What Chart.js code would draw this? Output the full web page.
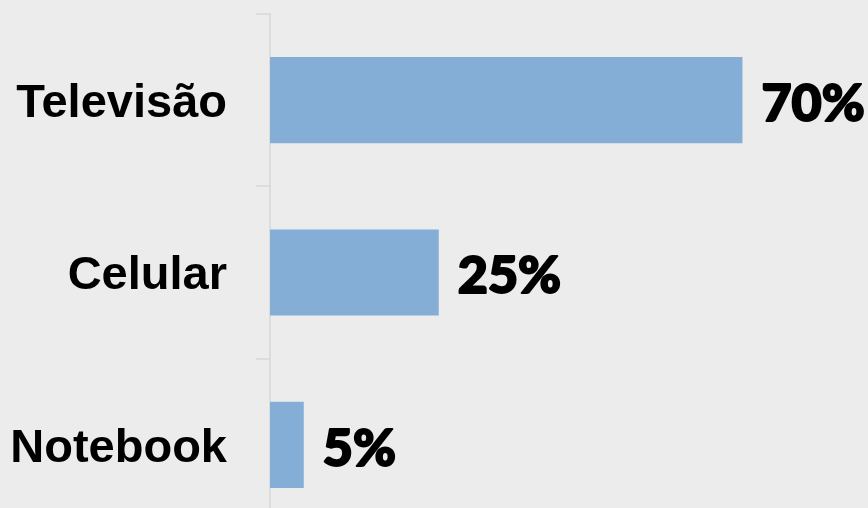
<!DOCTYPE html>
<html>
<head>
<meta charset="utf-8">
<script src="https://cdn.jsdelivr.net/npm/chart.js@4"></script>
<style>
  html, body { margin: 0; padding: 0; background: #ececec; overflow: hidden; }
</style>
</head>
<body>
<canvas id="barChart" width="868" height="531"></canvas>
<script>
const categories = ['Televisão', 'Celular', 'Notebook'];
const values = [70, 25, 5];
const valueLabels = ['70%', '25%', '5%'];

// draws the percentage text at the end of each bar
const valueLabelPlugin = {
    id: 'valueLabels',
    afterDatasetsDraw(chart) {
        const ctx = chart.ctx;
        const meta = chart.getDatasetMeta(0);
        ctx.save();
        ctx.fillStyle = '#000';
        ctx.strokeStyle = '#000';
        ctx.lineWidth = 2;
        ctx.lineJoin = 'round';
        ctx.font = '900 52px Lato, "Open Sans", sans-serif';
        ctx.textAlign = 'left';
        ctx.textBaseline = 'middle';
        meta.data.forEach(function(bar, i) {
            ctx.fillText(valueLabels[i], bar.x + 19, bar.y + 4);
            ctx.strokeText(valueLabels[i], bar.x + 19, bar.y + 4);
        });
        ctx.restore();
    }
};

document.addEventListener('DOMContentLoaded', function() {
    const ctx = document.getElementById('barChart').getContext('2d');

    new Chart(ctx, {
        type: 'bar',
        data: {
            labels: categories,
            datasets: [{
                data: values,
                backgroundColor: '#84aed6',
                borderWidth: 0,
                barPercentage: 0.5,
                categoryPercentage: 1
            }]
        },
        options: {
            indexAxis: 'y',
            responsive: false,
            animation: false,
            layout: { padding: { top: 14, right: 0, bottom: 0, left: 0 } },
            plugins: {
                legend: { display: false },
                tooltip: { enabled: false }
            },
            scales: {
                x: {
                    display: false,
                    min: 0,
                    max: 88.6
                },
                y: {
                    afterFit(scale) {
                        scale.width = 270;
                        scale.paddingTop = 0;
                        scale.paddingBottom = 0;
                    },
                    border: { display: true, color: '#dcdcdc', width: 2 },
                    grid: {
                        drawOnChartArea: false,
                        drawTicks: true,
                        tickLength: 14,
                        color: '#dcdcdc',
                        lineWidth: 2
                    },
                    ticks: {
                        color: '#000',
                        padding: 29,
                        labelOffset: 4,
                        font: { family: '"Liberation Sans", Arial, sans-serif', size: 47, weight: 'bold' }
                    }
                }
            }
        },
        plugins: [valueLabelPlugin]
    });
});
</script>
</body>
</html>
